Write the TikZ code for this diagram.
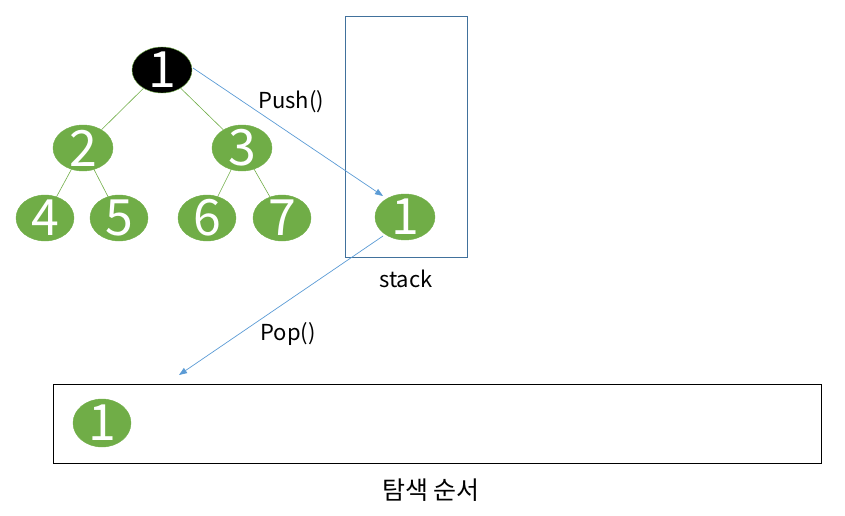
\documentclass[tikz,border=0pt]{standalone}
\usepackage{fontspec}
\setmainfont{Noto Sans CJK KR}
\usetikzlibrary{shapes.geometric,arrows.meta}
\definecolor{ggreen}{HTML}{70AD47}
\definecolor{ablue}{HTML}{5B9BD5}
\definecolor{sblue}{HTML}{41719C}
\tikzset{
  gnode/.style={ellipse,fill=ggreen,draw=ggreen,minimum width=60pt,minimum height=46pt,inner sep=0pt},
  snode/.style={gnode,minimum width=58pt},
  rootnode/.style={gnode,fill=black},
  digit/.style={text=white,inner sep=0pt,font=\fontsize{50}{50}\selectfont},
  tedge/.style={draw=ggreen,line width=0.6pt},
  barrow/.style={draw=ablue,line width=0.7pt,-{Triangle[length=8pt,width=6pt]}},
  lbl/.style={font=\fontsize{22}{22}\selectfont,inner sep=0pt}
}
\begin{document}
\begin{tikzpicture}[x=1pt,y=-1pt]
\useasboundingbox (0,0) rectangle (845,516);
% tree
\node[rootnode] (n1) at (162,70) {};
\node[gnode] (n2) at (83,148) {};
\node[gnode] (n3) at (242,148) {};
\node[snode] (n4) at (45,218) {};
\node[snode] (n5) at (119,218) {};
\node[snode] (n6) at (207,218) {};
\node[snode] (n7) at (282,218) {};
\draw[tedge] (n1) -- (n2);
\draw[tedge] (n1) -- (n3);
\draw[tedge] (n2) -- (n4);
\draw[tedge] (n2) -- (n5);
\draw[tedge] (n3) -- (n6);
\draw[tedge] (n3) -- (n7);
\node[digit] (t1) at (n1) {1};
\node[digit] (t2) at (n2) {2};
\node[digit] (t3) at (n3) {3};
\node[digit] (t4) at (n4) {4};
\node[digit] (t5) at (n5) {5};
\node[digit] (t6) at (n6) {6};
\node[digit] (t7) at (n7) {7};
% stack
\node[draw=sblue,line width=0.7pt,minimum width=122pt,minimum height=241pt,inner sep=0pt] (stackbox) at (406,136.5) {};
\node[gnode] (s1) at (405,217) {};
\node[digit] (ts1) at (s1) {1};
\node[lbl] (stacklbl) at (406,279) {stack};
% result box
\node[draw=black,line width=0.8pt,minimum width=768pt,minimum height=79pt,inner sep=0pt] (resbox) at (437,423.5) {};
\node[snode,minimum height=48pt] (r1) at (102,423) {};
\node[digit] (tr1) at (r1) {1};
\node[font=\fontsize{25}{25}\selectfont,inner sep=0pt] (reslbl) at (431,490) {탐색 순서};
% arrows
\coordinate (pushs) at (193,68);
\coordinate (pushe) at (383,196);
\coordinate (pops) at (383,236);
\coordinate (pope) at (179,375);
\draw[barrow] (pushs) -- (pushe);
\draw[barrow] (pops) -- (pope);
\node[lbl] (pushlbl) at (291,102) {Push()};
\node[lbl] (poplbl) at (288,334) {Pop()};
\end{tikzpicture}
\end{document}
